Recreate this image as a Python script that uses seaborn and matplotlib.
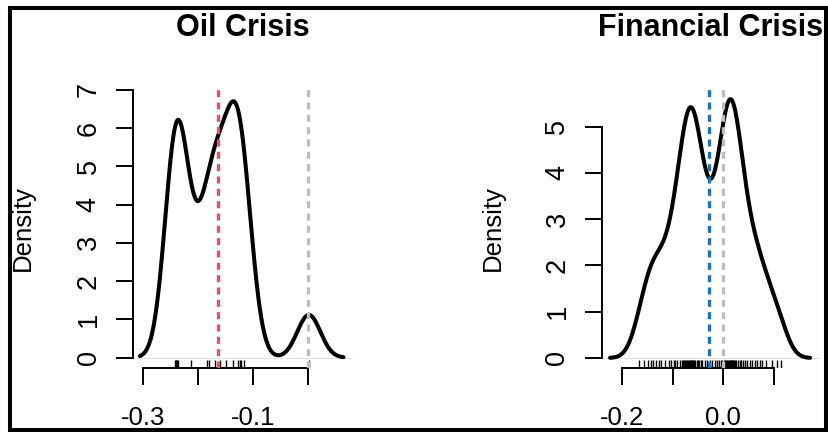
import numpy as np
import matplotlib.pyplot as plt
import seaborn as sns
from matplotlib.patches import Rectangle

# Returns
oil_returns = [-0.243, -0.241, -0.240, -0.239, -0.237,
               -0.214, -0.185, -0.181, -0.170,
               -0.160, -0.150, -0.137, -0.128, -0.125,
               -0.122, -0.116, 0.001]
oil_mean = -0.164
oil_zero = 0.0
oil_bw = 0.021

fin_returns = [-0.166, -0.156, -0.148, -0.143, -0.138, -0.133, -0.127, -0.122,
               -0.115, -0.107, -0.103, -0.098, -0.095, -0.092,
               -0.085, -0.082, -0.080, -0.077,
               -0.075, -0.073, -0.071, -0.069, -0.067,
               -0.065, -0.063, -0.062, -0.061, -0.059, -0.057,
               -0.055, -0.052, -0.050, -0.047, -0.044, -0.041,
               -0.036, -0.032, -0.027, -0.022, -0.017, -0.013,
               -0.008, -0.005, -0.002,
               0.001, 0.003, 0.005, 0.007, 0.009,
               0.011, 0.013, 0.015, 0.016, 0.017, 0.018, 0.019,
               0.021, 0.024, 0.026, 0.029,
               0.032, 0.035, 0.038, 0.043, 0.047, 0.053, 0.057,
               0.063, 0.067, 0.073, 0.077, 0.085, 0.096, 0.105, 0.114]
fin_mean = -0.029
fin_zero = 0.0
fin_bw = 0.019

oil_xticks = [-0.3, -0.2, -0.1, 0.0]
oil_xlabels = ['-0.3', '', '-0.1', '']
oil_yticks = [0, 1, 2, 3, 4, 5, 6, 7]
fin_xticks = [-0.2, -0.1, 0.0, 0.1]
fin_xlabels = ['-0.2', '', '0.0', '']
fin_yticks = [0, 1, 2, 3, 4, 5]

sns.set_theme(style='white')
plt.rcParams['font.family'] = ['Liberation Sans', 'DejaVu Sans']
plt.rcParams['text.color'] = 'black'
plt.rcParams['axes.labelcolor'] = 'black'
plt.rcParams['xtick.color'] = 'black'
plt.rcParams['ytick.color'] = 'black'

fig = plt.figure(figsize=(8.29, 4.32), dpi=100)


def panel(rect, data, bw, mean, mean_color, zero, title, xticks, xlabels, yticks, xlim, ylim):
    ax = fig.add_axes(rect)
    factor = bw / np.std(data, ddof=1)
    sns.kdeplot(x=data, bw_method=factor, cut=3, gridsize=400, color='black', lw=2.9, ax=ax)
    ax.axhline(0, color='#dddddd', lw=0.6, zorder=0.5)
    sns.rugplot(x=data, height=0.03, color='black', lw=1.8, ax=ax)
    dash = (0, (2.1, 1.6))
    ax.axvline(mean, color=mean_color, lw=2.4, linestyle=dash, zorder=4)
    ax.axvline(zero, color='#bebebe', lw=2.4, linestyle=dash, zorder=4)

    ax.set_xlim(*xlim)
    ax.set_ylim(*ylim)
    ax.set_xticks(xticks)
    ax.set_xticklabels(xlabels)
    ax.set_yticks(yticks)
    ax.set_yticklabels([str(t) for t in yticks])
    for s in ['top', 'right']:
        ax.spines[s].set_visible(False)
    ax.spines['left'].set_bounds(yticks[0], yticks[-1])
    ax.spines['bottom'].set_bounds(xticks[0], xticks[-1])
    for s in ['left', 'bottom']:
        ax.spines[s].set_linewidth(1.4)
        ax.spines[s].set_color('black')
    ax.tick_params(axis='both', which='major', direction='out', length=12,
                   width=1.4, color='black', left=True, bottom=True)
    ax.tick_params(axis='x', labelsize=18.5, pad=15.5)
    ax.tick_params(axis='y', labelsize=19.5, pad=10.5)
    plt.setp(ax.get_yticklabels(), rotation=90, va='center')
    ax.set_xlabel('')
    ax.set_ylabel('Density', fontsize=18.5)
    ax.yaxis.set_label_coords(-0.445, 0.5)
    ax.set_title(title, fontsize=22, fontweight='bold', pad=38.5)
    return ax


bottom, height = 1 - 368 / 432, (368 - 89) / 432
panel([133 / 829, bottom, (353.4 - 133) / 829, height], oil_returns, oil_bw,
      oil_mean, '#DF536B', oil_zero, 'Oil Crisis',
      oil_xticks, oil_xlabels, oil_yticks, (-0.3187, 0.082), (-0.27, 7.02))
panel([601.7 / 829, bottom, (820.3 - 601.7) / 829, height], fin_returns, fin_bw,
      fin_mean, '#1F72B8', fin_zero, 'Financial Crisis',
      fin_xticks, fin_xlabels, fin_yticks, (-0.2394, 0.191), (-0.216, 5.81))

# outer frame
fig.add_artist(Rectangle((10 / 829, 2 / 432), 816 / 829, 422 / 432, transform=fig.transFigure,
                         fill=False, lw=2.9, edgecolor='black', zorder=10))

fig.savefig('out.png', dpi=100)
